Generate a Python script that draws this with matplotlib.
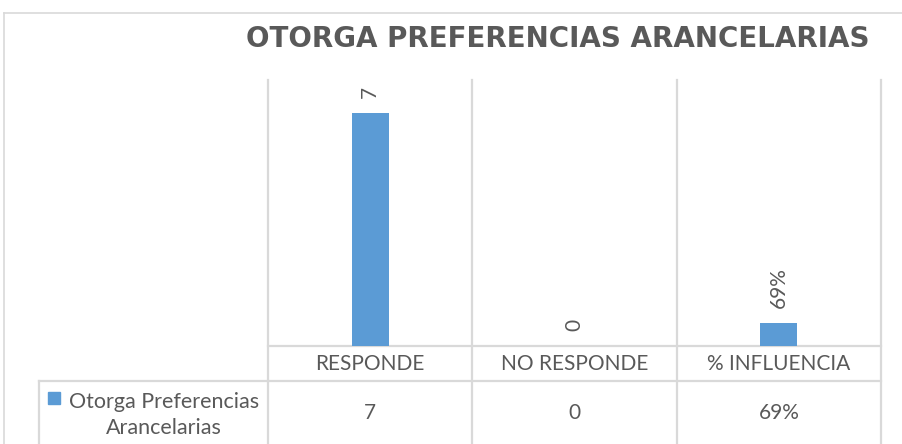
import matplotlib
matplotlib.use("Agg")
import matplotlib.pyplot as plt
from matplotlib.transforms import blended_transform_factory
from matplotlib.patches import Rectangle
from matplotlib.lines import Line2D

# ---- data ----
categories = ["RESPONDE", "NO RESPONDE", "% INFLUENCIA"]
values = [7, 0, 0.69]
value_labels = ["7", "0", "69%"]
series_name = "Otorga Preferencias\nArancelarias"
title = "OTORGA PREFERENCIAS ARANCELARIAS"

BLUE = "#5b9bd5"
TXT = "#595959"
GRID = "#d9d9d9"
FONT = "Lato"
FS = 15

W, H = 902, 444
fig = plt.figure(figsize=(W / 100, H / 100), dpi=100)
fig.patch.set_facecolor("white")

# plot area in pixels
x0, x1 = 268, 881
yb, yt = 346, 80
ax = fig.add_axes([x0 / W, (H - yb) / H, (x1 - x0) / W, (yb - yt) / H])
ax.set_xlim(-0.5, len(categories) - 0.5)
ax.set_ylim(0, 8)
for s in ax.spines.values():
    s.set_visible(False)
ax.set_xticks([])
ax.set_yticks([])
ax.patch.set_alpha(0)

xs = list(range(len(categories)))
bars = ax.bar(xs, values, width=0.18, color=BLUE, zorder=3)

for x, v, lab in zip(xs, values, value_labels):
    ax.annotate(lab, (x, v), xytext=(0, 15), textcoords="offset pixels",
                rotation=90, ha="center", va="bottom", color=TXT,
                fontsize=FS, family=FONT)

ah = yb - yt
tr = blended_transform_factory(ax.transData, ax.transAxes)
bottom_frac = (yb - H) / ah
# vertical table/grid lines at category boundaries
for b in [i - 0.5 for i in xs] + [xs[-1] + 0.5]:
    ax.plot([b, b], [bottom_frac, 1.0], transform=tr, color=GRID, lw=1.6,
            clip_on=False, zorder=1)
# horizontal line at baseline
ax.plot([-0.5, xs[-1] + 0.5], [0, 0], transform=tr, color=GRID, lw=1.6,
        clip_on=False, zorder=2)
row2 = (yb - 381) / ah
ax.plot([-0.5, xs[-1] + 0.5], [row2, row2], transform=tr, color=GRID, lw=1.6,
        clip_on=False, zorder=2)

# category labels and data row
for x, c, lab in zip(xs, categories, value_labels):
    ax.text(x, (yb - 364) / ah, c, transform=tr, ha="center", va="center",
            color=TXT, fontsize=FS, family=FONT)
    ax.text(x, (yb - 413) / ah, lab, transform=tr, ha="center", va="center",
            color=TXT, fontsize=FS, family=FONT)

# overlay for frame, legend cell and title (pixel coords)
ov = fig.add_axes([0, 0, 1, 1], zorder=-1)
ov.set_xlim(0, W)
ov.set_ylim(H, 0)
ov.axis("off")
ov.add_line(Line2D([4, 4], [13, H], color=GRID, lw=1.2))
ov.add_line(Line2D([4, W], [13, 13], color=GRID, lw=1.2))
ov.add_line(Line2D([39, x0], [381, 381], color=GRID, lw=1.6))
ov.add_line(Line2D([39, 39], [381, H], color=GRID, lw=1.6))

ov.add_patch(Rectangle((48, 392), 12, 12, color=BLUE))
ov.text(164, 415, series_name, ha="center", va="center", color=TXT,
        fontsize=15.5, family=FONT, multialignment="center", linespacing=1.35)

fig.text(558 / W, 1 - 39 / H, title, ha="center", va="center", color=TXT,
         fontsize=20, fontweight="bold", family="DejaVu Sans")

fig.savefig("out.png", dpi=100)
